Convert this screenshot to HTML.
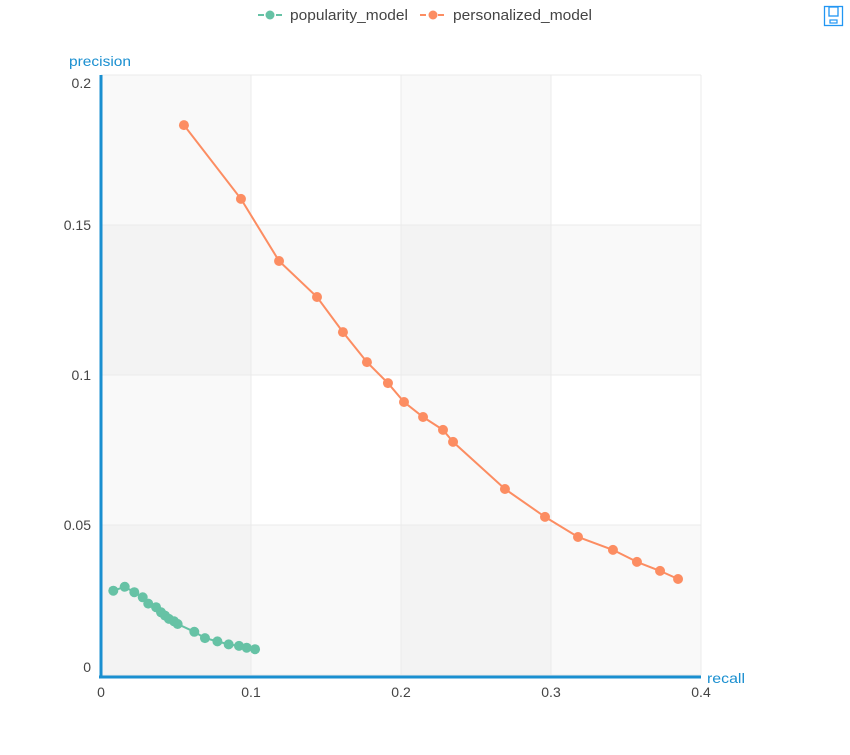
<!DOCTYPE html>
<html><head><meta charset="utf-8"><style>
body{margin:0;background:#fff;font-family:"Liberation Sans",sans-serif;}
svg text{font-family:"Liberation Sans",sans-serif;}
</style></head><body>
<svg id="chart" width="850" height="750" xmlns="http://www.w3.org/2000/svg">
<g id="bg"></g><g id="grid"></g><g id="series"></g><g id="axes"></g>
<g>
 <g>
  <line x1="258" y1="15" x2="283" y2="15" stroke="#66c2a5" stroke-width="2" stroke-dasharray="6,3"/>
  <circle cx="270" cy="15" r="4.5" fill="#66c2a5"/>
  <text x="290" y="20" font-size="15" fill="#444" textLength="118" lengthAdjust="spacingAndGlyphs">popularity_model</text>
 </g>
 <g>
  <line x1="420" y1="15" x2="446" y2="15" stroke="#fc8d62" stroke-width="2" stroke-dasharray="6,3"/>
  <circle cx="433" cy="15" r="4.5" fill="#fc8d62"/>
  <text x="453" y="20" font-size="15" fill="#444" textLength="139" lengthAdjust="spacingAndGlyphs">personalized_model</text>
 </g>
</g>
<g>
 <rect x="824.5" y="6.5" width="18" height="19" fill="#fff" stroke="#2196f3" stroke-width="1.3"/>
 <rect x="829" y="7" width="9" height="9" fill="none" stroke="#2196f3" stroke-width="1.3"/>
 <rect x="830" y="20" width="7" height="3" fill="none" stroke="#2196f3" stroke-width="1.2"/>
</g>
</svg>
<script>
const xTicks=[0,0.1,0.2,0.3,0.4];
const yTicks=[0,0.05,0.1,0.15,0.2];
const xTickLabels=["0","0.1","0.2","0.3","0.4"];
const yTickLabels=["0","0.05","0.1","0.15","0.2"];
const popRecall=[0.0082,0.0158,0.0222,0.0278,0.0315,0.0367,0.04,0.0427,0.0453,0.0487,0.0511,0.0622,0.0693,0.0776,0.0851,0.092,0.0971,0.1027];
const popPrecision=[0.0281,0.0294,0.0276,0.0259,0.0238,0.0226,0.0209,0.0198,0.0187,0.0179,0.017,0.0144,0.0123,0.0112,0.0102,0.0097,0.0091,0.0086];
const persRecall=[0.0553,0.0933,0.1187,0.144,0.1613,0.1773,0.1913,0.202,0.2147,0.228,0.2347,0.2693,0.296,0.318,0.3413,0.3573,0.3727,0.3847];
const persPrecision=[0.1833,0.1587,0.138,0.126,0.1143,0.1043,0.0973,0.091,0.086,0.0817,0.0777,0.062,0.0527,0.046,0.0417,0.0377,0.0347,0.032];

const NS="http://www.w3.org/2000/svg";
const X0=101,X1=701,Y0=675,Y1=75;
const xs=v=>X0+(v-0)/(0.4)*(X1-X0);
const ys=v=>Y0-(v-0)/(0.2)*(Y0-Y1);
function mk(tag,attrs,parent){const e=document.createElementNS(NS,tag);for(const k in attrs)e.setAttribute(k,attrs[k]);parent.appendChild(e);return e;}
const bg=document.getElementById('bg'),grid=document.getElementById('grid'),ser=document.getElementById('series'),ax=document.getElementById('axes');
const pb=mk('rect',{x:X0,y:Y1,width:X1-X0,height:Y0-Y1,fill:'#ffffff'},bg);


for(let i=0;i<xTicks.length-1;i+=2){
 const r=mk('rect',{x:xs(xTicks[i]),y:Y1,width:xs(xTicks[i+1])-xs(xTicks[i]),height:Y0-Y1,fill:'#000',opacity:0.025},bg);
 
 
}
for(let i=0;i<yTicks.length-1;i+=2){
 const r=mk('rect',{x:X0,y:ys(yTicks[i+1]),width:X1-X0,height:ys(yTicks[i])-ys(yTicks[i+1]),fill:'#000',opacity:0.025},bg);
 
 
}
xTicks.forEach((t,i)=>{
 const l=mk('line',{x1:xs(t),x2:xs(t),y1:Y1,y2:Y0,stroke:'#ebebeb','stroke-width':1},grid);
 
 
 const tx=mk('text',{x:xs(t),y:697,'text-anchor':'middle','font-size':14,fill:'#444'},ax);
 tx.textContent=xTickLabels[i];
 
 
});
yTicks.forEach((t,i)=>{
 const l=mk('line',{x1:X0,x2:X1,y1:ys(t),y2:ys(t),stroke:'#ebebeb','stroke-width':1},grid);
 
 
 let y=ys(t)+5; if(i===0) y=ys(t)-3; if(i===yTicks.length-1) y=ys(t)+13;
 const tx=mk('text',{x:91,y:y,'text-anchor':'end','font-size':14,fill:'#444'},ax);
 tx.textContent=yTickLabels[i];
 
 
});
const xa=mk('line',{x1:X0-2,x2:X1,y1:677,y2:677,stroke:'#1a8fd0','stroke-width':3},ax);


const ya=mk('line',{x1:X0,x2:X0,y1:Y1,y2:678,stroke:'#1a8fd0','stroke-width':3},ax);


const xt=mk('text',{x:707,y:683,'font-size':14,fill:'#1a8fd0',textLength:38,lengthAdjust:'spacingAndGlyphs'},ax);xt.textContent='recall';


const yt=mk('text',{x:69,y:66,'font-size':14,fill:'#1a8fd0',textLength:62,lengthAdjust:'spacingAndGlyphs'},ax);yt.textContent='precision';


function drawSeries(xv,yv,color,name){
 const g=mk('g',{},ser);
 
 
 const p=mk('polyline',{points:xv.map((x,i)=>xs(x)+','+ys(yv[i])).join(' '),fill:'none',stroke:color,'stroke-width':2},g);
 
 
 xv.forEach((x,i)=>{
  const c=mk('circle',{cx:xs(x),cy:ys(yv[i]),r:5,fill:color},g);
  
  
 });
}
drawSeries(popRecall,popPrecision,'#66c2a5','popularity');
drawSeries(persRecall,persPrecision,'#fc8d62','personalized');
</script>
</body></html>
